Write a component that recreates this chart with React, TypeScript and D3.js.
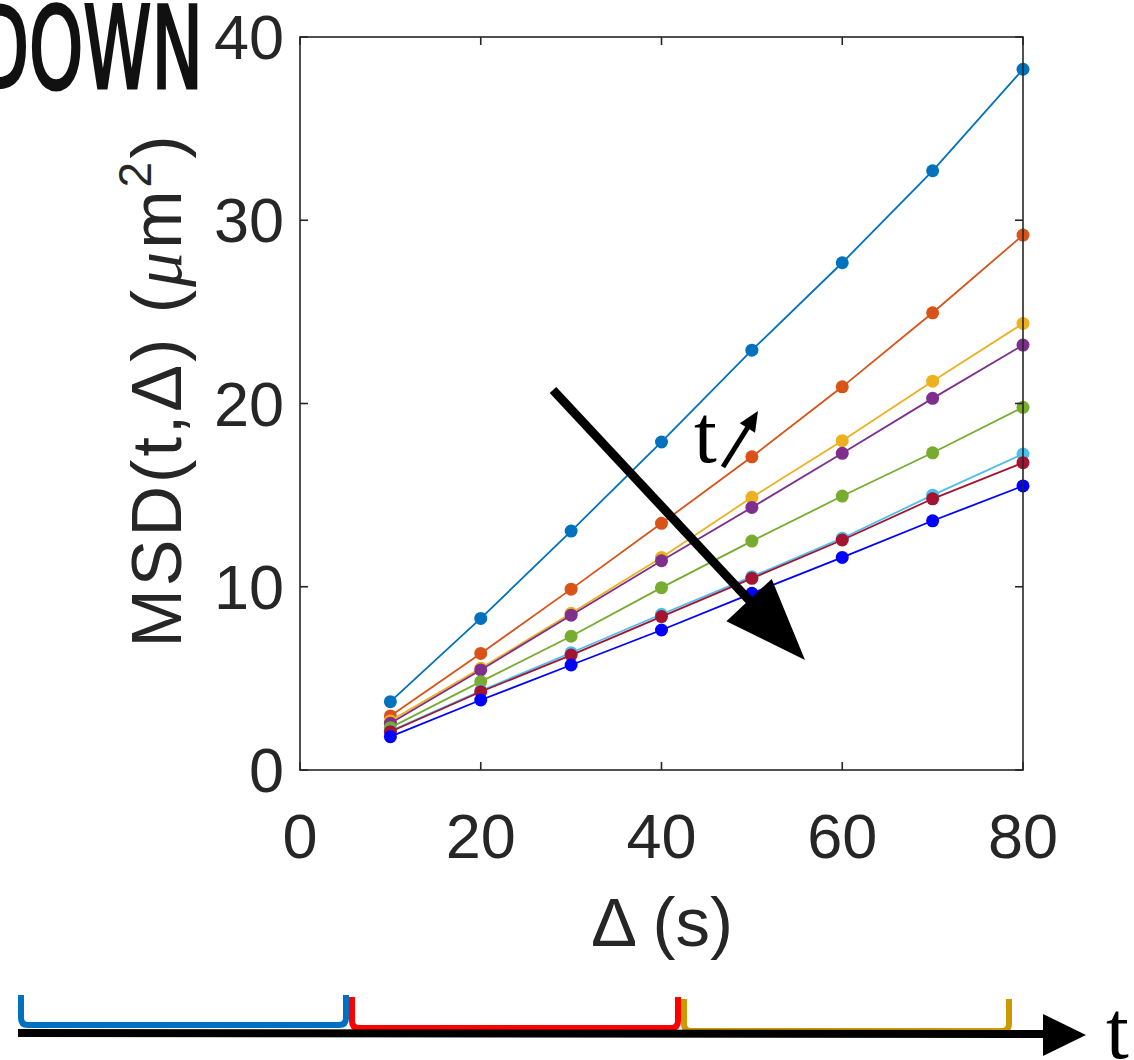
import React from "react";
import * as d3 from "d3";

const delta = [10, 20, 30, 40, 50, 60, 70, 80];
const s1 = [3.73, 8.27, 13.04, 17.9, 22.91, 27.68, 32.7, 38.24];
const s2 = [2.95, 6.36, 9.87, 13.46, 17.09, 20.91, 24.95, 29.19];
const s3 = [2.68, 5.55, 8.55, 11.6, 14.88, 17.97, 21.22, 24.37];
const s4 = [2.55, 5.46, 8.45, 11.42, 14.33, 17.28, 20.28, 23.19];
const s5 = [2.31, 4.82, 7.3, 9.95, 12.49, 14.95, 17.31, 19.79];
const s6 = [2.12, 4.32, 6.4, 8.5, 10.55, 12.65, 15.0, 17.24];
const s7 = [2.09, 4.27, 6.27, 8.37, 10.46, 12.55, 14.8, 16.77];
const s8 = [1.82, 3.82, 5.73, 7.64, 9.64, 11.6, 13.6, 15.5];
const seriesValues = [s1, s2, s3, s4, s5, s6, s7, s8];
const seriesColors = ["#0072BD", "#D95319", "#EDB120", "#7E2F8E", "#77AC30", "#4DBEEE", "#A2142F", "#0000FF"];
const xTicks = [0, 20, 40, 60, 80];
const yTicks = [0, 10, 20, 30, 40];
const bracketColors = ["#0070C0", "#FF0000", "#CC9900"];

const L = 300, R = 1023, T = 37, B = 770;
const axisColor = "#262626";
const font = "'Liberation Sans', Arial, Helvetica, sans-serif";
const serif = "'Liberation Serif', 'DejaVu Serif', 'Times New Roman', serif";

export default function App() {
  const x = d3.scaleLinear().domain([0, 80]).range([L, R]);
  const y = d3.scaleLinear().domain([0, 40]).range([B, T]);
  const line = d3.line<[number, number]>().x(d => x(d[0])).y(d => y(d[1]));
  const tickLen = 8;

  const bracket = (x0: number, x1: number, top: number, bot: number) => {
    const r = 7;
    return `M${x0},${top} L${x0},${bot - r} Q${x0},${bot} ${x0 + r},${bot} L${x1 - r},${bot} Q${x1},${bot} ${x1},${bot - r} L${x1},${top}`;
  };
  const brackets = [
    { x0: 21, x1: 346, top: 995, bot: 1025 },
    { x0: 352, x1: 678, top: 997, bot: 1028 },
    { x0: 684, x1: 1009, top: 999, bot: 1031 },
  ];

  // big arrow
  const a0 = [553, 390], a1 = [805, 660];
  const dx = a1[0] - a0[0], dy = a1[1] - a0[1];
  const len = Math.hypot(dx, dy);
  const ux = dx / len, uy = dy / len;
  const px = -uy, py = ux;
  const hl = 82, hw = 31;
  const bx = a1[0] - ux * hl, by = a1[1] - uy * hl;
  const head = `M${a1[0]},${a1[1]} L${bx + px * hw},${by + py * hw} L${bx - px * hw},${by - py * hw} Z`;

  // small arrow
  const b0 = [723, 467], b1 = [758, 411];
  const sdx = b1[0] - b0[0], sdy = b1[1] - b0[1];
  const sl = Math.hypot(sdx, sdy);
  const sux = sdx / sl, suy = sdy / sl;
  const spx = -suy, spy = sux;
  const shl = 20, shw = 9;
  const sbx = b1[0] - sux * shl, sby = b1[1] - suy * shl;
  const shead = `M${b1[0]},${b1[1]} L${sbx + spx * shw},${sby + spy * shw} L${sbx - spx * shw},${sby - spy * shw} Z`;

  return (
    <svg width={1134} height={1060} style={{ position: "absolute", left: 0, top: 0, background: "#fff" }}>
      <rect x={0} y={0} width={1134} height={1060} fill="#fff" />
      {/* DOWN text cut off */}
      <text x={-24} y={88} fontFamily="'DejaVu Sans Condensed', 'DejaVu Sans', sans-serif" fontSize={114}
        textLength={227} lengthAdjust="spacingAndGlyphs" fill="#111" stroke="#111" strokeWidth={3}>DOWN</text>

      {/* series */}
      {seriesValues.map((vals, i) => {
        const pts = delta.map((d, j) => [d, vals[j]] as [number, number]);
        return (
          <g key={i}>
            <path d={line(pts) || ""} fill="none" stroke={seriesColors[i]} strokeWidth={1.8} />
            {pts.map((p, j) => (
              <circle key={j} cx={x(p[0])} cy={y(p[1])} r={6.5} fill={seriesColors[i]} />
            ))}
          </g>
        );
      })}

      {/* axes box */}
      <rect x={L} y={T} width={R - L} height={B - T} fill="none" stroke={axisColor} strokeWidth={1.6} />
      {xTicks.map(t => (
        <g key={"xt" + t}>
          <line x1={x(t)} x2={x(t)} y1={B} y2={B - tickLen} stroke={axisColor} strokeWidth={1.6} />
          <line x1={x(t)} x2={x(t)} y1={T} y2={T + tickLen} stroke={axisColor} strokeWidth={1.6} />
          <text x={x(t)} y={858} textAnchor="middle" fontFamily={font} fontSize={63} fill={axisColor}>{t}</text>
        </g>
      ))}
      {yTicks.map(t => (
        <g key={"yt" + t}>
          <line x1={L} x2={L + tickLen} y1={y(t)} y2={y(t)} stroke={axisColor} strokeWidth={1.6} />
          <line x1={R} x2={R - tickLen} y1={y(t)} y2={y(t)} stroke={axisColor} strokeWidth={1.6} />
          <text x={284} y={y(t) + 22} textAnchor="end" fontFamily={font} fontSize={63} fill={axisColor}>{t}</text>
        </g>
      ))}

      {/* axis labels */}
      <text x={662} y={946} textAnchor="middle" fontFamily={font} fontSize={69} fill={axisColor}>Δ (s)</text>
      <text transform={`translate(181,390) rotate(-90)`} textAnchor="middle" fontFamily={font} fontSize={70}
        letterSpacing={3} fill={axisColor}>
        MSD(t,Δ) (<tspan fontStyle="italic" fontFamily={serif}>μ</tspan>m<tspan fontSize={46} dy={-30}>2</tspan><tspan dy={30}>)</tspan>
      </text>

      {/* big arrow */}
      <line x1={a0[0]} y1={a0[1]} x2={bx + ux * 4} y2={by + uy * 4} stroke="#000" strokeWidth={9} />
      <path d={head} fill="#000" />

      {/* t arrow */}
      <text x={694} y={462} fontFamily={serif} fontSize={82} fill="#000">t</text>
      <line x1={b0[0]} y1={b0[1]} x2={sbx + sux * 2} y2={sby + suy * 2} stroke="#000" strokeWidth={5} />
      <path d={shead} fill="#000" />

      {/* bottom timeline */}
      {brackets.map((b, i) => (
        <path key={i} d={bracket(b.x0, b.x1, b.top, b.bot)} fill="none" stroke={bracketColors[i]} strokeWidth={6} />
      ))}
      <line x1={18} y1={1033} x2={1046} y2={1034} stroke="#000" strokeWidth={8} />
      <path d="M1086,1035 L1043,1014 L1043,1056 Z" fill="#000" />
      <text x={1106} y={1058} fontFamily={serif} fontSize={82} fill="#000">t</text>
    </svg>
  );
}
